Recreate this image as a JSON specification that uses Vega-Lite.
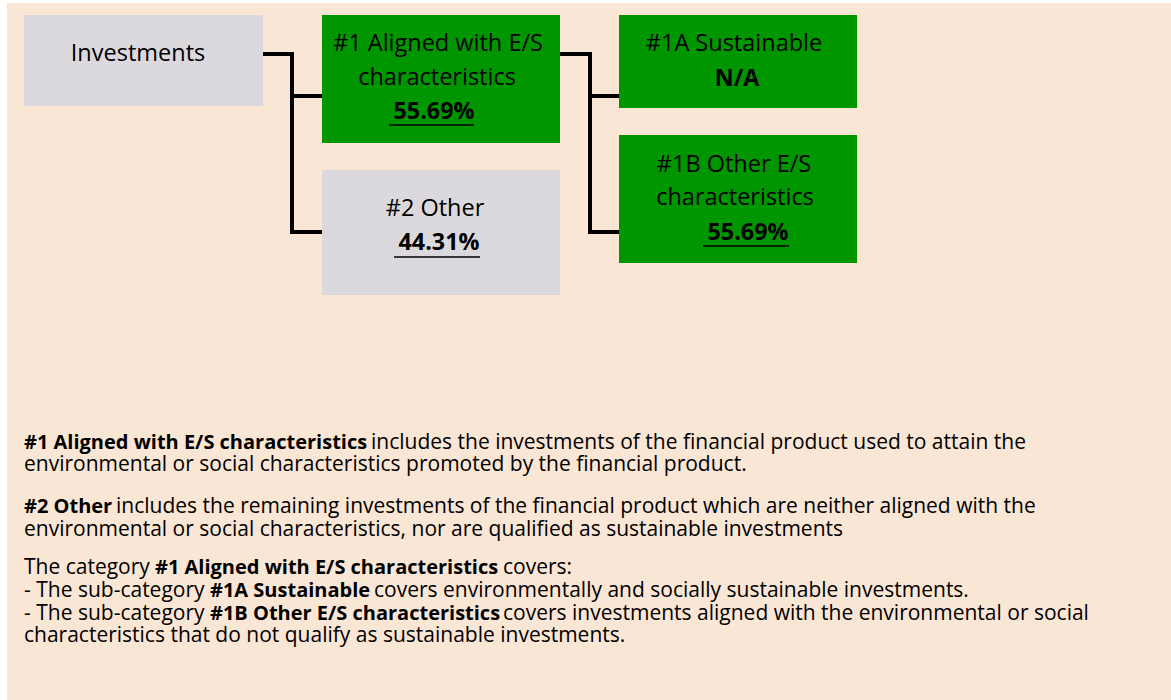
{
  "$schema": "https://vega.github.io/schema/vega-lite/v6.json",
  "width": 1171,
  "height": 700,
  "padding": 0,
  "autosize": {"type": "none"},
  "background": "#ffffff",
  "config": {"view": {"stroke": null}},
  "datasets": {
    "bg": [{"x": 7, "x2": 1171, "y": 3, "y2": 700}],
    "boxes": [
      {"name": "Investments", "kind": "grey", "x": 24, "x2": 263, "y": 15, "y2": 106},
      {"name": "#1 Aligned with E/S characteristics", "kind": "green", "x": 322, "x2": 560, "y": 15, "y2": 143},
      {"name": "#2 Other", "kind": "grey", "x": 322, "x2": 560, "y": 170, "y2": 295},
      {"name": "#1A Sustainable", "kind": "green", "x": 619, "x2": 857, "y": 15, "y2": 108},
      {"name": "#1B Other E/S characteristics", "kind": "green", "x": 619, "x2": 857, "y": 135, "y2": 263}
    ],
    "links": [
      {"path": "a", "step": 1, "x": 263, "y": 54},
      {"path": "a", "step": 2, "x": 292, "y": 54},
      {"path": "a", "step": 3, "x": 292, "y": 232},
      {"path": "a", "step": 4, "x": 322, "y": 232},
      {"path": "b", "step": 1, "x": 292, "y": 96},
      {"path": "b", "step": 2, "x": 322, "y": 96},
      {"path": "c", "step": 1, "x": 560, "y": 54},
      {"path": "c", "step": 2, "x": 590, "y": 54},
      {"path": "c", "step": 3, "x": 590, "y": 232},
      {"path": "c", "step": 4, "x": 619, "y": 232},
      {"path": "d", "step": 1, "x": 590, "y": 96},
      {"path": "d", "step": 2, "x": 619, "y": 96}
    ],
    "boxTextRegular": [
      {"text": "Investments", "x": 138, "y": 54},
      {"text": "#1 Aligned with E/S", "x": 438, "y": 44},
      {"text": "characteristics", "x": 437, "y": 78},
      {"text": "#2 Other", "x": 435, "y": 209},
      {"text": "#1A Sustainable", "x": 734, "y": 44},
      {"text": "#1B Other E/S", "x": 734, "y": 165},
      {"text": "characteristics", "x": 735, "y": 198}
    ],
    "boxTextBold": [
      {"text": "55.69%", "x": 434, "y": 112},
      {"text": "44.31%", "x": 439, "y": 243},
      {"text": "N/A", "x": 737, "y": 79},
      {"text": "55.69%", "x": 748, "y": 233}
    ],
    "underlines": [
      {"x": 389, "x2": 474, "y": 125},
      {"x": 394, "x2": 480, "y": 257},
      {"x": 703, "x2": 789, "y": 246}
    ],
    "bodyRegular": [
      {"text": "includes the investments of the financial product used to attain the", "x": 371, "y": 443},
      {"text": "environmental or social characteristics promoted by the financial product.", "x": 24, "y": 465},
      {"text": "includes the remaining investments of the financial product which are neither aligned with the", "x": 116, "y": 507},
      {"text": "environmental or social characteristics, nor are qualified as sustainable investments", "x": 24, "y": 530},
      {"text": "The category", "x": 24, "y": 568},
      {"text": "covers:", "x": 503, "y": 568},
      {"text": "- The sub-category", "x": 24, "y": 591},
      {"text": "covers environmentally and socially sustainable investments.", "x": 374, "y": 591},
      {"text": "- The sub-category", "x": 24, "y": 614},
      {"text": "covers investments aligned with the environmental or social", "x": 503, "y": 614},
      {"text": "characteristics that do not qualify as sustainable investments.", "x": 24, "y": 636}
    ],
    "bodyBold": [
      {"text": "#1 Aligned with E/S characteristics", "x": 24, "y": 443},
      {"text": "#2 Other", "x": 24, "y": 507},
      {"text": "#1 Aligned with E/S characteristics", "x": 155, "y": 568},
      {"text": "#1A Sustainable", "x": 210, "y": 591},
      {"text": "#1B Other E/S characteristics", "x": 210, "y": 614}
    ]
  },
  "layer": [
    {
      "data": {"name": "bg"},
      "mark": {"type": "rect", "color": "#fae6d5"},
      "encoding": {
        "x": {"field": "x", "type": "quantitative", "scale": {"domain": [0, 1171], "range": [0, 1171], "nice": false, "zero": false}, "axis": null},
        "x2": {"field": "x2"},
        "y": {"field": "y", "type": "quantitative", "scale": {"domain": [0, 700], "range": [0, 700], "nice": false, "zero": false}, "axis": null},
        "y2": {"field": "y2"}
      }
    },
    {
      "data": {"name": "boxes"},
      "mark": {"type": "rect"},
      "encoding": {
        "x": {"field": "x", "type": "quantitative", "axis": null},
        "x2": {"field": "x2"},
        "y": {"field": "y", "type": "quantitative", "axis": null},
        "y2": {"field": "y2"},
        "color": {"field": "kind", "type": "nominal", "scale": {"domain": ["grey", "green"], "range": ["#dbd9de", "#009600"]}, "legend": null}
      }
    },
    {
      "data": {"name": "links"},
      "mark": {"type": "line", "color": "#000000", "strokeWidth": 4, "strokeCap": "butt", "strokeJoin": "miter"},
      "encoding": {
        "x": {"field": "x", "type": "quantitative", "axis": null},
        "y": {"field": "y", "type": "quantitative", "axis": null},
        "detail": {"field": "path", "type": "nominal"},
        "order": {"field": "step", "type": "quantitative"}
      }
    },
    {
      "data": {"name": "boxTextRegular"},
      "mark": {"type": "text", "font": "Open Sans", "fontSize": 23.5, "align": "center", "baseline": "middle", "color": "#000000"},
      "encoding": {
        "x": {"field": "x", "type": "quantitative", "axis": null},
        "y": {"field": "y", "type": "quantitative", "axis": null},
        "text": {"field": "text"}
      }
    },
    {
      "data": {"name": "boxTextBold"},
      "mark": {"type": "text", "font": "Open Sans", "fontSize": 23.3, "fontWeight": "bold", "align": "center", "baseline": "middle", "color": "#000000"},
      "encoding": {
        "x": {"field": "x", "type": "quantitative", "axis": null},
        "y": {"field": "y", "type": "quantitative", "axis": null},
        "text": {"field": "text"}
      }
    },
    {
      "data": {"name": "underlines"},
      "mark": {"type": "rule", "color": "#000000", "strokeWidth": 1.5},
      "encoding": {
        "x": {"field": "x", "type": "quantitative", "axis": null},
        "x2": {"field": "x2"},
        "y": {"field": "y", "type": "quantitative", "axis": null}
      }
    },
    {
      "data": {"name": "bodyRegular"},
      "mark": {"type": "text", "font": "Open Sans", "fontSize": 21, "align": "left", "baseline": "middle", "color": "#000000"},
      "encoding": {
        "x": {"field": "x", "type": "quantitative", "axis": null},
        "y": {"field": "y", "type": "quantitative", "axis": null},
        "text": {"field": "text"}
      }
    },
    {
      "data": {"name": "bodyBold"},
      "mark": {"type": "text", "font": "Open Sans", "fontSize": 20, "fontWeight": "bold", "align": "left", "baseline": "middle", "color": "#000000"},
      "encoding": {
        "x": {"field": "x", "type": "quantitative", "axis": null},
        "y": {"field": "y", "type": "quantitative", "axis": null},
        "text": {"field": "text"}
      }
    }
  ]
}
